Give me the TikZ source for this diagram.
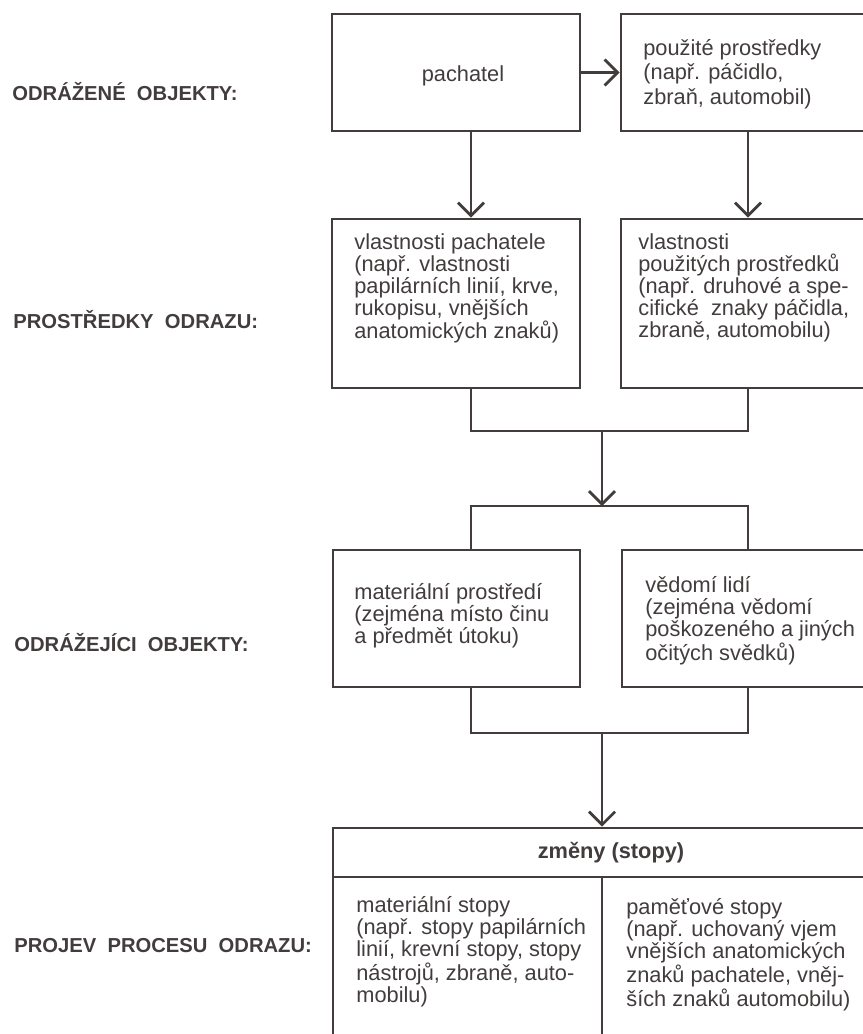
\documentclass[tikz,border=0pt]{standalone}
\usepackage{fontspec}
\setmainfont{Liberation Sans}
\usepackage{tikz}
\usetikzlibrary{arrows.meta,fit}
\definecolor{ink}{RGB}{66,60,60}

\begin{document}
\begin{tikzpicture}[x=0.2mm, y=-0.2mm, line width=0.55mm, color=ink,
    font=\fontsize{12.4}{12.5}\selectfont,
    box/.style={draw, inner sep=0pt, fit={#1}},
    txt/.style={anchor=north west, inner sep=0pt, align=left},
    lbl/.style={anchor=base west, inner sep=0pt, font=\fontsize{11.5}{11.5}\selectfont\bfseries},
    arr/.style={-{Straight Barb[length=2.6mm,width=5.2mm]}}]
      \useasboundingbox (0,0) rectangle (863,1034);
      \clip (0,0) rectangle (863,1034);

      \node[lbl](Lbl1) at (11, 100) {ODRÁŽENÉ\ \ OBJEKTY:};
      \node[lbl](Lbl2) at (12, 328) {PROSTŘEDKY\ \ ODRAZU:};
      \node[lbl](Lbl3) at (13, 651) {ODRÁŽEJÍCI\ \ OBJEKTY:};
      \node[lbl](Lbl4) at (13, 952) {PROJEV\ \ PROCESU\ \ ODRAZU:};

      \coordinate(C1) at (471, 0);
      \coordinate(C2) at (748, 0);
      \coordinate(J1) at (602, 431);
      \coordinate(J2) at (602, 506);
      \coordinate(J3) at (602, 733);

      \node[box={(332,14) (580,131)}](Obj1) {};
        \node[inner sep=0pt](Obj1t) at (463, 76) {pachatel};
      \node[box={(621,14) (888,131)}](Obj2) {};
        \node[txt, font=\fontsize{12.4}{13.9}\selectfont](Obj2t) at (642, 38)
          {použité prostředky\\(např. páčidlo,\\zbraň, automobil)};

      \node[box={(332,219) (580,388)}](Vl1) {};
        \node[txt](Vl1t) at (353, 232)
          {vlastnosti pachatele\\(např. vlastnosti\\papilárních linií, krve,\\rukopisu, vnějších\\anatomických znaků)};
      \node[box={(621,219) (888,388)}](Vl2) {};
        \node[txt](Vl2t) at (637, 232)
          {vlastnosti\\použitých prostředků\\(např. druhové a spe-\\cifické\ \ znaky páčidla,\\zbraně, automobilu)};

      \node[box={(333,550) (580,687)}](Prostr1) {};
        \node[txt](Prostr1t) at (353, 582)
          {materiální prostředí\\(zejména místo činu\\a předmět útoku)};
      \node[box={(622,550) (888,687)}](Prostr2) {};
        \node[txt](Prostr2t) at (644, 575)
          {vědomí lidí\\(zejména vědomí\\poškozeného a jiných\\očitých svědků)};

      \node[box={(333,828) (888,877)}](Zmeny) {};
        \node[inner sep=0pt, font=\fontsize{12.4}{12.5}\selectfont\bfseries](Zmenyt) at (611, 853) {změny (stopy)};
      \node[box={(333,877) (602,1050)}](Stopy1) {};
        \node[txt](Stopy1t) at (355, 895)
          {materiální stopy\\(např. stopy papilárních\\linií, krevní stopy, stopy\\nástrojů, zbraně, auto-\\mobilu)};
      \node[box={(602,877) (888,1050)}](Stopy2) {};
        \node[txt](Stopy2t) at (625, 897)
          {paměťové stopy\\(např. uchovaný vjem\\vnějších anatomických\\znaků pachatele, vněj-\\ších znaků automobilu)};

      \draw[arr] (Obj1.east) -- (Obj2.west);
      \draw[arr] (Obj1.south -| C1) -- (Vl1.north -| C1);
      \draw[arr] (Obj2.south -| C2) -- (Vl2.north -| C2);
      \draw (Vl1.south -| C1) |- (J1) -| (Vl2.south -| C2);
      \draw[arr] (J1) -- (J2);
      \draw (Prostr1.north -| C1) |- (J2) -| (Prostr2.north -| C2);
      \draw (Prostr1.south -| C1) |- (J3) -| (Prostr2.south -| C2);
      \draw[arr] (J3) -- (Zmeny.north -| J3);
    \end{tikzpicture}
\end{document}
